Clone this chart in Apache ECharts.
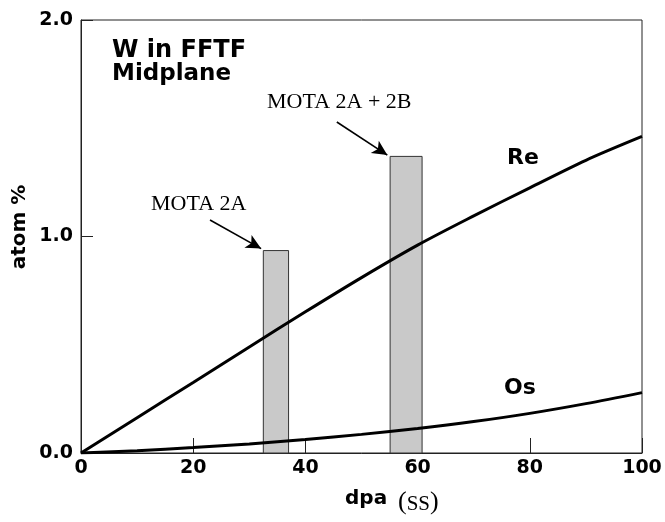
<!DOCTYPE html>
<html>
<head>
<meta charset="utf-8">
<script src="https://cdn.jsdelivr.net/npm/echarts@6/dist/echarts.min.js"></script>
<style>html,body{margin:0;padding:0;background:#fff}#c{width:665px;height:522px}</style>
</head>
<body>
<div id="c"></div>
<script>
// Data
const dpa = [0, 10, 20, 30, 40, 50, 60, 70, 80, 90, 100];
const reAtom = [0, 0.163, 0.326, 0.49, 0.652, 0.81, 0.96, 1.095, 1.225, 1.352, 1.462];
const osAtom = [0, 0.01, 0.025, 0.042, 0.062, 0.086, 0.113, 0.145, 0.183, 0.228, 0.279];
const barNames = ['MOTA 2A', 'MOTA 2A + 2B'];
const barStart = [32.5, 55.1];
const barEnd = [37.0, 60.8];
const barTop = [0.935, 1.37];
const xTicks = [0, 20, 40, 60, 80, 100];
const yTicks = [0.0, 1.0, 2.0];
// arrows (data coords): [fromX, fromY, toX, toY]
const arrow2A = [23.0, 1.076, 32.1, 0.944];
const arrow2B = [45.6, 1.529, 54.6, 1.376];

const chart = echarts.init(document.getElementById('c'), null, {renderer: 'canvas'});
const sans = 'DejaVu Sans';
const serif = 'Liberation Serif';

const option = {
  animation: false,
  backgroundColor: '#fff',
  grid: {left: 81, right: 23, top: 20, bottom: 69, show: true, borderColor: '#222', borderWidth: 1, backgroundColor: 'transparent'},
  xAxis: {
    type: 'value', min: xTicks[0], max: xTicks[xTicks.length - 1], interval: 20,
    axisLine: {show: true, lineStyle: {color: '#222', width: 1}},
    axisTick: {show: true, inside: true, length: 15, lineStyle: {color: '#222', width: 1}},
    splitLine: {show: false},
    axisLabel: {margin: 6, color: '#000', fontFamily: sans, fontWeight: 'bold', fontSize: 19}
  },
  yAxis: {
    type: 'value', min: yTicks[0], max: yTicks[yTicks.length - 1], interval: 1,
    axisLine: {show: true, lineStyle: {color: '#222', width: 1}},
    axisTick: {show: true, inside: true, length: 12, lineStyle: {color: '#222', width: 1}},
    splitLine: {show: false},
    axisLabel: {margin: 8, color: '#000', fontFamily: sans, fontWeight: 'bold', fontSize: 19,
      formatter: v => v.toFixed(1)}
  },
  series: [
    {
      type: 'custom', name: 'MOTA', z: 1,
      data: barStart.map((s, i) => [s, barEnd[i], barTop[i], barNames[i]]),
      renderItem: function (params, api) {
        const p0 = api.coord([api.value(0), 0]);
        const p1 = api.coord([api.value(1), api.value(2)]);
        return {
          type: 'rect',
          shape: {x: p0[0], y: p1[1], width: p1[0] - p0[0], height: p0[1] - p1[1]},
          style: {fill: '#c9c9c9', stroke: '#333', lineWidth: 1}
        };
      },
      markLine: {
        silent: true, symbol: ['none', 'arrow'], symbolSize: [11, 15],
        label: {show: false},
        lineStyle: {color: '#000', width: 1.6, type: 'solid'},
        data: [
          [{coord: [arrow2A[0], arrow2A[1]]}, {coord: [arrow2A[2], arrow2A[3]]}],
          [{coord: [arrow2B[0], arrow2B[1]]}, {coord: [arrow2B[2], arrow2B[3]]}]
        ]
      }
    },
    {
      type: 'line', name: 'Re', z: 3, smooth: 0.3, showSymbol: false,
      data: dpa.map((x, i) => [x, reAtom[i]]),
      lineStyle: {color: '#000', width: 3}
    },
    {
      type: 'line', name: 'Os', z: 3, smooth: 0.3, showSymbol: false,
      data: dpa.map((x, i) => [x, osAtom[i]]),
      lineStyle: {color: '#000', width: 3}
    }
  ],
  graphic: [
    {type: 'text', left: 112, top: 39, style: {text: 'W in FFTF', font: 'bold 24px "DejaVu Sans"', fill: '#000'}},
    {type: 'text', left: 112, top: 63, style: {text: 'Midplane', font: 'bold 23px "DejaVu Sans"', fill: '#000'}},
    {type: 'text', left: 151, top: 193, style: {text: barNames[0], font: '22px "Liberation Serif"', fill: '#000'}},
    {type: 'text', left: 267, top: 91, style: {text: barNames[1], font: '22px "Liberation Serif"', fill: '#000'}},
    {type: 'text', left: 507, top: 147, style: {text: 'Re', font: 'bold 22px "DejaVu Sans"', fill: '#000'}},
    {type: 'text', left: 504, top: 377, style: {text: 'Os', font: 'bold 22px "DejaVu Sans"', fill: '#000'}},
    {type: 'text', x: 20, y: 227, rotation: Math.PI / 2,
      style: {text: 'atom %', font: 'bold 20px "DejaVu Sans"', fill: '#000', align: 'center', verticalAlign: 'middle'}},
    {type: 'text', left: 345, top: 489, style: {text: 'dpa', font: 'bold 20px "DejaVu Sans"', fill: '#000'}},
    {type: 'text', left: 398, top: 489, style: {
      text: '{p|(}{s|SS}{p|)}',
      rich: {
        p: {fontFamily: serif, fontSize: 26, fill: '#000', color: '#000'},
        s: {fontFamily: serif, fontSize: 21, fill: '#000', color: '#000', verticalAlign: 'bottom'}
      }
    }}
  ]
};
chart.setOption(option);
</script>
</body>
</html>
